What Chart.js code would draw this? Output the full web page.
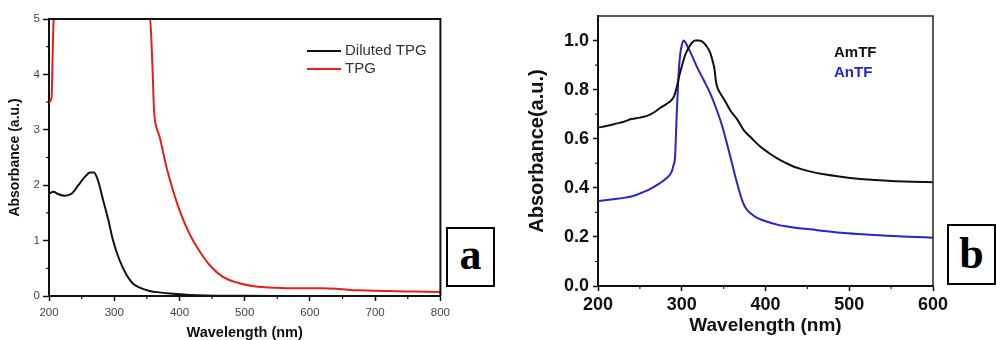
<!DOCTYPE html>
<html><head><meta charset="utf-8">
<script src="https://cdn.jsdelivr.net/npm/chart.js@4"></script>
<style>
html,body{margin:0;padding:0;background:#fff;width:996px;height:340px;overflow:hidden;position:relative}
.wrap{position:absolute;top:0}
.lbl{position:absolute;box-sizing:border-box;border:2px solid #000;background:#fff;font-family:'Liberation Serif','Times New Roman',serif;font-weight:bold;color:#000;text-align:center}
</style></head>
<body>
<div class="wrap" style="left:0;width:455px;height:348px"><canvas id="ca"></canvas></div>
<div class="wrap" style="left:510px;width:486px;height:348px"><canvas id="cb"></canvas></div>
<div class="lbl" style="left:446px;top:227px;width:49px;height:60px;font-size:44px;line-height:52px">a</div>
<div class="lbl" style="left:947px;top:224px;width:49px;height:61px;font-size:44px;line-height:56px">b</div>
<script>
// ---------- Panel a data ----------
const aDilutedWl  = [200,207,214,224,235,245,255,263,269,275,283,291,298,308,319,329,339,354,366,390,415,440,480,550,650,800];
const aDilutedAbs = [1.85,1.88,1.84,1.81,1.85,2.00,2.15,2.23,2.23,2.09,1.73,1.37,1.01,0.65,0.38,0.22,0.15,0.09,0.07,0.04,0.02,0.01,0.005,0,0,0];
const aTpgWl  = [200,202,204,205.5,207,208,355,357,359,361,362,370,380,390,400,415,430,446,466,492,517,545,568,600,620,640,660,685,720,760,800];
const aTpgAbs = [3.48,3.52,3.6,4.3,4.95,5,5,4.6,4.0,3.35,3.21,2.85,2.33,1.91,1.55,1.13,0.82,0.56,0.35,0.23,0.17,0.15,0.14,0.14,0.14,0.13,0.11,0.10,0.09,0.08,0.07];
const aSeriesNames = ['Diluted TPG','TPG'];
const aXTicks = [200,300,400,500,600,700,800];
const aXMinor = [250,350,450,550,650,750];
const aYTicks = [0,1,2,3,4,5];
const aYMinor = [0.5,1.5,2.5,3.5,4.5];

// ---------- Panel b data ----------
const bAmWl  = [200,210,220,230,240,250,260,268,274,282,288,291,294,297,300,304,308,312,316,320,324,329,334,337,339,341,343,346,352,358,366,374,384,394,404,414,424,434,444,454,470,490,510,530,550,575,600];
const bAmAbs = [.645,.652,.66,.668,.68,.686,.695,.71,.725,.742,.758,.775,.81,.855,.894,.94,.97,.99,1.0,1.0,.997,.98,.95,.915,.885,.83,.805,.785,.752,.715,.68,.635,.60,.567,.542,.52,.502,.486,.475,.466,.455,.445,.437,.432,.428,.425,.423];
const bAnWl  = [200,210,222,232,242,252,262,274,282,288,290,292,294,296,298,300,302,304,306,310,318,326,334,342,348,354,360,364,368,372,376,382,390,402,414,426,440,453,470,490,510,540,570,600];
const bAnAbs = [.346,.35,.355,.36,.367,.38,.395,.419,.44,.466,.49,.527,.70,.85,.94,.98,1.0,.995,.982,.955,.894,.84,.785,.715,.655,.58,.50,.445,.395,.35,.32,.296,.278,.262,.25,.242,.235,.231,.224,.217,.212,.206,.201,.197];
const bSeriesNames = ['AmTF','AnTF'];
const bXTicks = [200,300,400,500,600];
const bXMinor = [250,350,450,550];
const bYTicks = [0,0.2,0.4,0.6,0.8,1.0];
const bYTickLabels = ['0.0','0.2','0.4','0.6','0.8','1.0'];
const bYMinor = [0.1,0.3,0.5,0.7,0.9];

const pts = (xs, ys) => xs.map((x, i) => ({x, y: ys[i]}));

// frame + minor ticks + in-plot legend
const decor = {
  id: 'decor',
  afterDraw(chart, args, o) {
    const {ctx, chartArea: ca, scales} = chart;
    ctx.save();
    ctx.strokeStyle = o.frameColor; ctx.lineWidth = o.frameWidth;
    ctx.beginPath();
    ctx.moveTo(ca.left, ca.top); ctx.lineTo(ca.right, ca.top); ctx.lineTo(ca.right, ca.bottom);
    ctx.stroke();
    ctx.lineWidth = 1.2;
    o.xMinor.forEach(v => { const px = scales.x.getPixelForValue(v); ctx.beginPath(); ctx.moveTo(px, ca.bottom); ctx.lineTo(px, ca.bottom + 3); ctx.stroke(); });
    o.yMinor.forEach(v => { const py = scales.y.getPixelForValue(v); ctx.beginPath(); ctx.moveTo(ca.left, py); ctx.lineTo(ca.left - 3, py); ctx.stroke(); });
    // legend
    ctx.font = o.legendFont; ctx.textBaseline = 'middle'; ctx.textAlign = 'left';
    chart.data.datasets.forEach((ds, i) => {
      const y = ca.top + o.legendY + i * o.legendGap;
      let x = ca.left + o.legendX;
      if (o.legendLine) {
        ctx.strokeStyle = ds.borderColor; ctx.lineWidth = 2;
        ctx.beginPath(); ctx.moveTo(x, y); ctx.lineTo(x + o.legendLine, y); ctx.stroke();
        x += o.legendLine + 4;
        ctx.fillStyle = o.legendText;
      } else {
        ctx.fillStyle = ds.borderColor;
      }
      ctx.fillText(ds.label, x, y);
    });
    ctx.restore();
  }
};

function axis(ticks, labels, size, fontTick, tickColor, tl, pad, title, titleFont, titlePad) {
  return {
    type: 'linear', min: ticks[0], max: null,
    afterBuildTicks: s => { s.ticks = ticks.map(v => ({value: v})); },
    afterFit: s => { if (s.isHorizontal()) s.height = size; else s.width = size; },
    ticks: { font: fontTick, color: tickColor, padding: pad, autoSkip: false, maxRotation: 0,
             callback: (v, i) => labels ? labels[i] : String(v) },
    grid: { drawOnChartArea: false, drawTicks: true, tickLength: tl, tickWidth: 1.5, tickColor: '#111' },
    border: { display: true, width: 2, color: '#111' },
    title: { display: true, text: title, font: titleFont, color: '#111', padding: titlePad }
  };
}

// ---------- Chart a ----------
const xa = axis(aXTicks, null, 52, {family: 'Liberation Sans, Arial', size: 11.5}, '#444', 5, 5,
  'Wavelength (nm)', {family: 'Liberation Sans, Arial', size: 14.5, weight: 'bold'}, {top: 0, bottom: 6});
xa.max = 800;
const ya = axis(aYTicks, null, 49, {family: 'Liberation Sans, Arial', size: 11.5}, '#444', 6, 3,
  'Absorbance (a.u.)', {family: 'Liberation Sans, Arial', size: 14, weight: 'bold'}, {top: 7, bottom: 0});
ya.max = 5;

new Chart(document.getElementById('ca'), {
  type: 'line',
  data: { datasets: [
    { label: aSeriesNames[0], data: pts(aDilutedWl, aDilutedAbs), borderColor: '#111', borderWidth: 2, pointRadius: 0, cubicInterpolationMode: 'monotone' },
    { label: aSeriesNames[1], data: pts(aTpgWl, aTpgAbs), borderColor: '#e3201b', borderWidth: 2, pointRadius: 0, cubicInterpolationMode: 'monotone' }
  ]},
  options: {
    responsive: true, maintainAspectRatio: false, animation: false,
    layout: { padding: { left: 0, right: 13, top: 19, bottom: 0 } },
    scales: { x: xa, y: ya },
    plugins: { legend: { display: false }, tooltip: { enabled: false },
      decor: { frameColor: '#111', frameWidth: 2, xMinor: aXMinor, yMinor: aYMinor,
        legendX: 258, legendY: 32, legendGap: 18, legendLine: 34, legendFont: '15px "Liberation Sans", Arial', legendText: '#333' } }
  },
  plugins: [decor]
});

// ---------- Chart b ----------
const xb = axis(bXTicks, null, 62, {family: 'Liberation Sans, Arial', size: 18, weight: 'bold'}, '#111', 5, 3,
  'Wavelength (nm)', {family: 'Liberation Sans, Arial', size: 19, weight: 'bold'}, {top: 0, bottom: 11});
xb.max = 600;
const yb = axis(bYTicks, bYTickLabels, 88, {family: 'Liberation Sans, Arial', size: 18, weight: 'bold'}, '#111', 5, 4,
  'Absorbance(a.u.)', {family: 'Liberation Sans, Arial', size: 20, weight: 'bold'}, {top: 15, bottom: 0});
yb.max = 1.1;

new Chart(document.getElementById('cb'), {
  type: 'line',
  data: { datasets: [
    { label: bSeriesNames[0], data: pts(bAmWl, bAmAbs), borderColor: '#111', borderWidth: 2, pointRadius: 0, cubicInterpolationMode: 'monotone' },
    { label: bSeriesNames[1], data: pts(bAnWl, bAnAbs), borderColor: '#2626c8', borderWidth: 2, pointRadius: 0, cubicInterpolationMode: 'monotone' }
  ]},
  options: {
    responsive: true, maintainAspectRatio: false, animation: false,
    layout: { padding: { left: 0, right: 63, top: 16, bottom: 0 } },
    scales: { x: xb, y: yb },
    plugins: { legend: { display: false }, tooltip: { enabled: false },
      decor: { frameColor: '#222', frameWidth: 1.5, xMinor: bXMinor, yMinor: bYMinor,
        legendX: 236, legendY: 37, legendGap: 20, legendLine: 0, legendFont: 'bold 15px "Liberation Sans", Arial', legendText: '#111' } }
  },
  plugins: [decor]
});
</script>
</body></html>
